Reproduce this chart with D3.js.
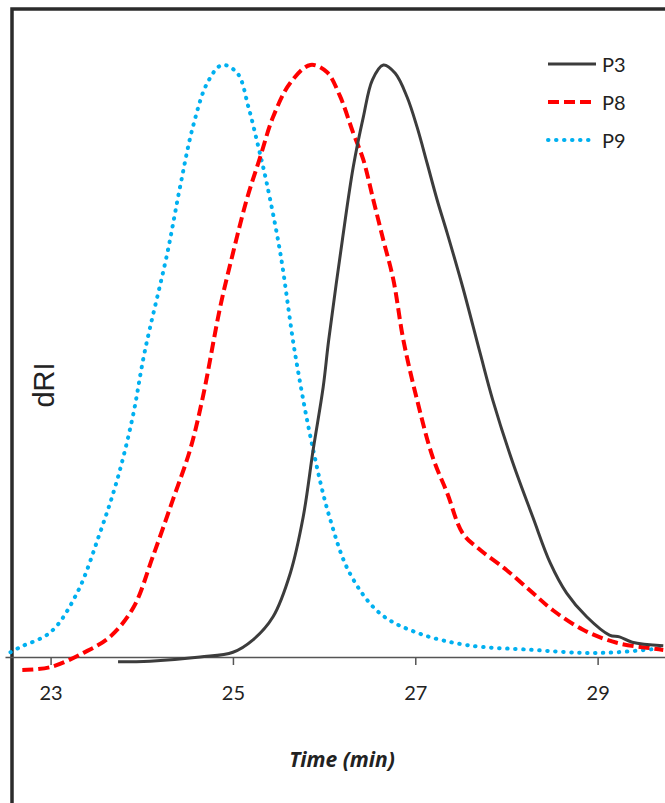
<!DOCTYPE html>
<html>
<head>
<meta charset="utf-8">
<script src="https://cdn.jsdelivr.net/npm/d3@7"></script>
<style>
    body { margin: 0; background: #fff; }
    text { font-family: Lato, "Open Sans", sans-serif; fill: #222; }
</style>
</head>
<body>
<div id="chart"></div>
<script>

// retention time (min) and normalised dRI
const p3 = [
    [23.74, -0.008], [24.09, -0.007], [24.64, 0.0], [25.00, 0.008], [25.22, 0.029],
    [25.44, 0.068], [25.63, 0.142], [25.77, 0.236], [25.88, 0.350], [25.99, 0.456],
    [26.05, 0.535], [26.20, 0.704], [26.32, 0.828], [26.43, 0.912], [26.53, 0.975],
    [26.65, 1.0], [26.78, 0.986], [26.91, 0.946], [27.02, 0.895], [27.13, 0.834],
    [27.24, 0.772], [27.35, 0.716], [27.52, 0.625], [27.71, 0.514], [27.85, 0.434],
    [28.07, 0.328], [28.29, 0.236], [28.48, 0.159], [28.66, 0.108], [28.88, 0.068],
    [29.13, 0.037], [29.24, 0.034], [29.38, 0.025], [29.72, 0.019]
];

const p8 = [
    [22.69, -0.022], [23.00, -0.017], [23.36, 0.007], [23.65, 0.034], [23.91, 0.084],
    [24.12, 0.169], [24.34, 0.265], [24.53, 0.350], [24.67, 0.439], [24.86, 0.591],
    [25.00, 0.682], [25.15, 0.772], [25.30, 0.845], [25.44, 0.912], [25.63, 0.970],
    [25.85, 1.0], [26.03, 0.988], [26.17, 0.949], [26.32, 0.885], [26.43, 0.840],
    [26.54, 0.772], [26.65, 0.704], [26.76, 0.637], [26.87, 0.535], [27.02, 0.434],
    [27.19, 0.338], [27.35, 0.277], [27.52, 0.209], [27.71, 0.181], [28.00, 0.147],
    [28.29, 0.108], [28.51, 0.079], [28.84, 0.046], [29.21, 0.024], [29.57, 0.015],
    [29.72, 0.012]
];

const p9 = [
    [22.56, 0.008], [22.67, 0.017], [23.00, 0.042], [23.29, 0.108], [23.54, 0.209],
    [23.73, 0.299], [23.90, 0.405], [24.03, 0.514], [24.28, 0.682], [24.42, 0.794],
    [24.56, 0.895], [24.72, 0.970], [24.88, 1.0], [25.05, 0.986], [25.17, 0.929],
    [25.28, 0.861], [25.37, 0.801], [25.52, 0.682], [25.68, 0.514], [25.88, 0.350],
    [26.06, 0.236], [26.28, 0.142], [26.61, 0.074], [27.02, 0.041], [27.57, 0.020],
    [28.29, 0.012], [28.84, 0.007], [29.21, 0.008], [29.72, 0.015]
];

const seriesNames = ["P3", "P8", "P9"];
const xTicks = [23, 25, 27, 29];

const width = 665;
const height = 803;

const svg = d3.select("#chart")
    .append("svg")
    .attr("width", width)
    .attr("height", height);

const x = d3.scaleLinear()
    .domain([22.5, 29.75])
    .range([5, 666]);

const y = d3.scaleLinear()
    .domain([0, 1])
    .range([657, 65]);

// outer frame, only top and left are visible
svg.append("path")
    .attr("d", "M12,810 L12,9 L680,9")
    .attr("fill", "none")
    .attr("stroke", "#2b2b2b")
    .attr("stroke-width", 3.5);

// x axis
const xAxis = svg.append("g")
    .attr("transform", "translate(0," + y(0) + ")")
    .call(d3.axisBottom(x)
        .tickValues(xTicks)
        .tickSize(8)
        .tickSizeOuter(0)
        .tickPadding(21));

xAxis.select(".domain")
    .attr("stroke", "#555")
    .attr("stroke-width", 1.5);

xAxis.selectAll(".tick line")
    .attr("stroke", "#555")
    .attr("stroke-width", 1.5);

xAxis.selectAll(".tick text")
    .style("font-family", "Lato, sans-serif")
    .style("font-size", "20px")
    .attr("fill", "#222");

svg.append("text")
    .attr("x", 342)
    .attr("y", 767)
    .attr("text-anchor", "middle")
    .style("font-family", "'Open Sans', sans-serif")
    .style("font-size", "21px")
    .style("font-weight", "bold")
    .style("font-style", "italic")
    .text("Time (min)");

svg.append("text")
    .attr("transform", "translate(54,385) rotate(-90)")
    .attr("text-anchor", "middle")
    .style("font-family", "'Liberation Sans', Arial, sans-serif")
    .style("font-size", "29px")
    .text("dRI");

// line styles per series
const styles = {
    P3: { color: "#3c3c3c", width: 3, dash: null, cap: "butt" },
    P8: { color: "#ff0000", width: 4, dash: "11,5", cap: "butt" },
    P9: { color: "#00b0f0", width: 4, dash: "0.5,7.5", cap: "round" }
};

const line = d3.line()
    .x(function(d) { return x(d[0]); })
    .y(function(d) { return y(d[1]); })
    .curve(d3.curveCatmullRom.alpha(0.5));

const allSeries = [p3, p8, p9];

// draw P9 first so the solid line sits on top
[2, 1, 0].forEach(function(i) {
    const s = styles[seriesNames[i]];
    svg.append("path")
        .datum(allSeries[i])
        .attr("d", line)
        .attr("fill", "none")
        .attr("stroke", s.color)
        .attr("stroke-width", s.width)
        .attr("stroke-dasharray", s.dash)
        .attr("stroke-linecap", s.cap);
});

// legend
const legend = svg.append("g")
    .attr("transform", "translate(548,64)");

seriesNames.forEach(function(name, i) {
    const s = styles[name];
    legend.append("line")
        .attr("x1", 0)
        .attr("x2", 48)
        .attr("y1", i * 38)
        .attr("y2", i * 38)
        .attr("stroke", s.color)
        .attr("stroke-width", s.width)
        .attr("stroke-dasharray", s.dash)
        .attr("stroke-linecap", s.cap);

    legend.append("text")
        .attr("x", 54)
        .attr("y", i * 38 + 7.5)
        .style("font-size", "20px")
        .text(name);
});

</script>
</body>
</html>
